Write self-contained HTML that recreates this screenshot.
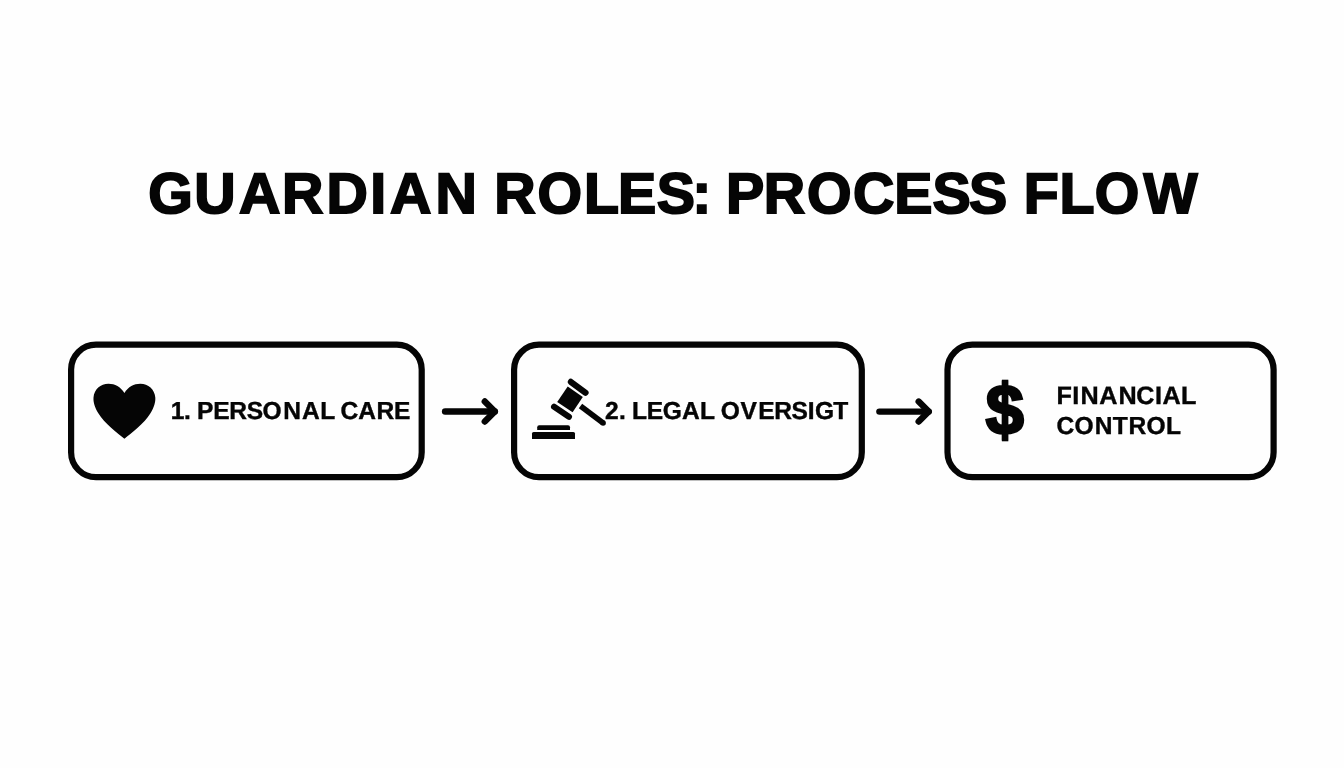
<!DOCTYPE html>
<html lang="en">
<head>
<meta charset="utf-8">
<title>Guardian Roles: Process Flow</title>
<style>
html,body{margin:0;padding:0;background:#fefefe;}
body{width:1344px;height:768px;overflow:hidden;}
svg{display:block;will-change:transform;}
text{font-family:"Liberation Sans",Arial,Helvetica,sans-serif;font-weight:700;fill:#050505;white-space:pre;text-rendering:geometricPrecision;}
.title{font-size:57.3px;stroke:#050505;stroke-width:1.9px;stroke-linejoin:miter;}
.label{font-size:24.56px;stroke:#050505;stroke-width:0.4px;stroke-linejoin:miter;}
.dollar{font-size:70.2px;stroke:#050505;stroke-width:2.8px;stroke-linejoin:miter;}
</style>
</head>
<body>
<svg width="1344" height="768" viewBox="0 0 1344 768">
<rect width="1344" height="768" fill="#fefefe"/>
<text class="title" y="213" x="148.3 194.2 239.0 282.1 326.4 370.3 390.0 435.4 476.8 494.3 537.6 584.1 617.9 656.7 692.2 711.3 726.1 763.7 806.9 852.9 894.2 932.4 969.0 1007.2 1023.8 1059.6 1094.7 1143.6">GUARDIAN ROLES: PROCESS FLOW</text>
<rect x="71.10" y="344.70" width="350.60" height="132.50" rx="24.90" ry="24.90" fill="none" stroke="#050505" stroke-width="6.2"/>
<path fill="#050505" d="M124.4 438.8 C118 433.5 104 423 98.5 413.5 C94.5 407 93.2 402 93.5 397.5 C94.2 389.5 100.5 383.8 108.5 383.8 C115 383.8 120.5 386.9 124.4 393 C128.3 386.9 133.8 383.8 140.3 383.8 C148.3 383.8 154.6 389.5 155.3 397.5 C155.6 402 154.3 407 150.3 413.5 C144.8 423 130.8 433.5 124.4 438.8 Z"/>
<text class="label" y="419" x="170.7 184.1 190.9 197.1 213.3 229.3 246.8 262.6 283.2 301.9 320.3 335.3 340.4 358.3 376.6 394.1">1. PERSONAL CARE</text>
<g fill="none" stroke="#050505" stroke-width="6.4" stroke-linecap="round" stroke-linejoin="round"><path d="M445.10 411.50H494.80"/><path d="M484.80 401.50L494.80 411.50L484.80 421.50"/></g>
<rect x="514.10" y="344.70" width="347.70" height="132.50" rx="24.90" ry="24.90" fill="none" stroke="#050505" stroke-width="6.2"/>
<g fill="#050505" stroke="none">
<path d="M532 439V433.6Q532 432 533.6 432H573.4Q575 432 575 433.6V439Z"/>
<path d="M537.2 430.1V427.2Q537.2 425.2 539.2 425.2H568Q570 425.2 570 427.2V430.1Z"/>
<polygon points="567.7,386.6 582.8,396.9 572.6,412.2 557.2,402.0"/>
<circle cx="603.1" cy="423.0" r="2.8"/>
</g>
<g fill="none" stroke="#050505" stroke-linecap="round">
<path d="M570.9 381.9L585.5 392.7" stroke-width="6.2"/>
<path d="M554.1 406.7L568.9 416.7" stroke-width="6.2"/>
<path d="M580.5 406.1L603.1 423.0" stroke-width="5.6" stroke-linecap="butt"/>
</g>
<text class="label" y="419" x="604.9 618.9 625.7 632.1 646.7 662.7 681.9 700.0 715.0 720.8 740.5 758.3 774.3 791.6 807.8 815.1 833.3">2. LEGAL OVERSIGT</text>
<g fill="none" stroke="#050505" stroke-width="6.4" stroke-linecap="round" stroke-linejoin="round"><path d="M879.40 411.60H928.70"/><path d="M918.70 401.60L928.70 411.60L918.70 421.60"/></g>
<rect x="947.50" y="344.70" width="326.10" height="132.50" rx="24.90" ry="24.90" fill="none" stroke="#050505" stroke-width="6.2"/>
<rect x="1001.9" y="379.7" width="6.4" height="61.6" fill="#050505"/>
<text class="dollar" transform="translate(985.7 434) scale(0.975 1)" x="0" y="0">$</text>
<text class="label" style="font-size:25.2px" y="404" x="1056.4 1072.2 1080.5 1099.3 1118.6 1136.3 1155.1 1162.6 1180.9">FINANCIAL</text>
<text class="label" y="434" x="1056.4 1074.4 1094.8 1112.8 1128.5 1146.5 1166.0">CONTROL</text>
</svg>
</body>
</html>
